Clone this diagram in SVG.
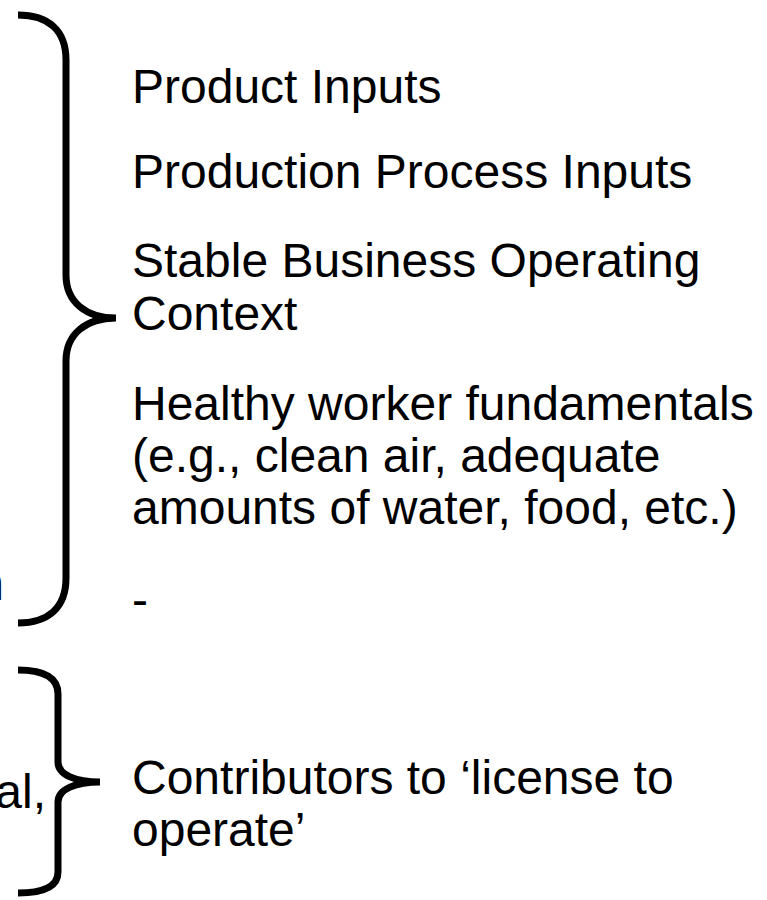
<svg xmlns="http://www.w3.org/2000/svg" width="767" height="900" viewBox="0 0 767 900">
<style>
.t{font-family:"Liberation Sans",Arial,sans-serif;font-size:48px;fill:#000}
.brace{fill:none;stroke:#000;stroke-width:7}
</style>
<rect width="767" height="900" fill="#fff"/>
<g id="connectors">
<path class="brace" d="M18,15 C48,15 66,30 66,60 L66,275 C66,302 86,318 116,318 C86,318 66,334 66,361 L66,578 C66,608 48,623 18,623"/>
<path class="brace" d="M18,670 C44,670 58,678 58,694 L58,762 C58,775 76,782 100,782 C76,782 58,789 58,802 L58,872 C58,886 44,893 18,893"/>
</g>
<g id="left-fragments">
<text class="t" x="4" y="600" text-anchor="end">n</text>
<text class="t" x="46" y="808" text-anchor="end">al,</text>
</g>
<g id="inputs">
<text class="t" x="132" y="103">Product Inputs</text>
<text class="t" x="132" y="188">Production Process Inputs</text>
<text class="t" x="132" y="277">Stable Business Operating</text>
<text class="t" x="132" y="330">Context</text>
<text class="t" x="132" y="420">Healthy worker fundamentals</text>
<text class="t" x="132" y="472">(e.g., clean air, adequate</text>
<text class="t" x="132" y="524">amounts of water, food, etc.)</text>
<text class="t" x="132" y="616">-</text>
</g>
<g id="license">
<text class="t" x="132" y="794">Contributors to ‘license to</text>
<text class="t" x="132" y="846">operate’</text>
</g>
</svg>
